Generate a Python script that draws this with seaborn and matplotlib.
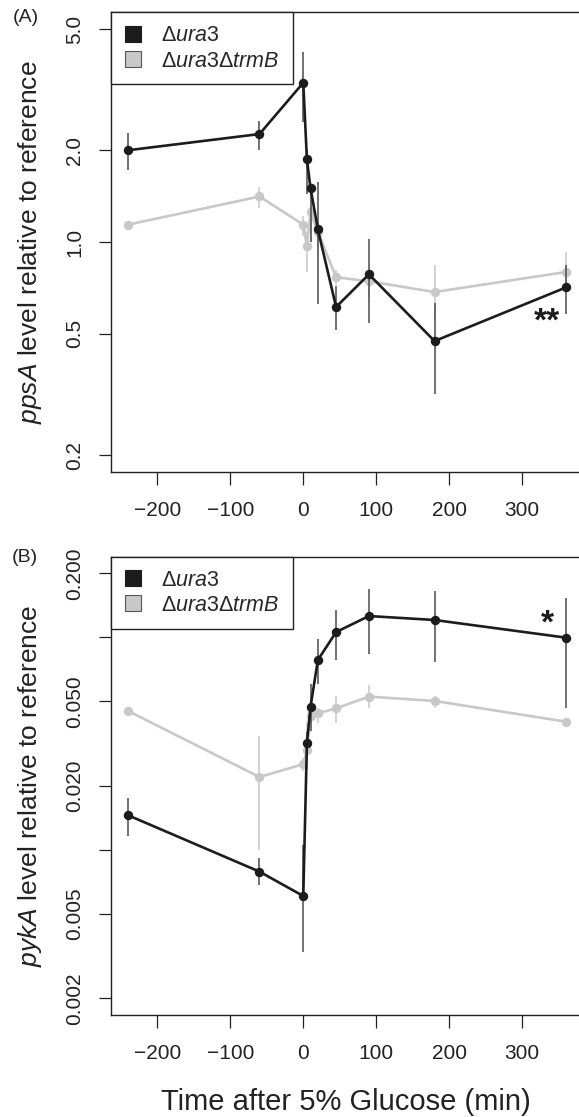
import matplotlib
matplotlib.use("Agg")
import numpy as np
import pandas as pd
import matplotlib.pyplot as plt
import seaborn as sns
from matplotlib.lines import Line2D
from matplotlib.ticker import NullLocator

# time after glucose addition (min)
time = [-240, -60, 0, 5, 10, 20, 45, 90, 180, 360]

# (A) ppsA
ppsA_ura3 = [2.0, 2.26, 3.33, 1.865, 1.50, 1.10, 0.612, 0.783, 0.473, 0.709]
ppsA_ura3_lo = [1.72, 2.01, 2.48, 1.44, 1.0, 0.628, 0.513, 0.542, 0.316, 0.582]
ppsA_ura3_hi = [2.28, 2.50, 4.19, 2.01, 1.55, 1.57, 0.715, 1.026, 0.631, 0.839]
ppsA_trmB = [1.14, 1.41, 1.14, 0.968, 1.25, 1.08, 0.766, 0.743, 0.685, 0.797]
ppsA_trmB_lo = [1.14, 1.29, 1.05, 0.80, 1.0, 0.95, 0.72, 0.66, 0.56, 0.69]
ppsA_trmB_hi = [1.14, 1.52, 1.22, 1.08, 1.37, 1.20, 0.81, 0.80, 0.839, 0.927]

# (B) pykA
pykA_ura3 = [0.01453, 0.00789, 0.00606, 0.0317, 0.0472, 0.0782, 0.1059, 0.126, 0.1207, 0.0997]
pykA_ura3_lo = [0.01161, 0.0068, 0.0033, 0.0277, 0.0362, 0.0601, 0.078, 0.0838, 0.0765, 0.0467]
pykA_ura3_hi = [0.01747, 0.0091, 0.0105, 0.0357, 0.0601, 0.0978, 0.134, 0.168, 0.166, 0.154]
pykA_trmB = [0.045, 0.0220, 0.0253, 0.0295, 0.0426, 0.0439, 0.0463, 0.0526, 0.0502, 0.0401]
pykA_trmB_lo = [0.045, 0.0100, 0.0235, 0.0240, 0.040, 0.0394, 0.0397, 0.0467, 0.0467, 0.0401]
pykA_trmB_hi = [0.045, 0.0343, 0.027, 0.0398, 0.046, 0.0467, 0.053, 0.0594, 0.053, 0.0401]

legend_labels = [r"$\Delta\mathit{ura3}$", r"$\Delta\mathit{ura3}\Delta\mathit{trmB}$"]
x_ticks = [-200, -100, 0, 100, 200, 300]

sns.set_style("ticks")
plt.rcParams["font.family"] = ["Liberation Sans", "DejaVu Sans"]
plt.rcParams["mathtext.fontset"] = "custom"
plt.rcParams["mathtext.rm"] = "Liberation Sans"
plt.rcParams["mathtext.it"] = "Liberation Sans:italic"
plt.rcParams["mathtext.bf"] = "Liberation Sans:bold"

BLACK = "#1c1c1c"
GRAY = "#c8c8c8"
colors = {"ura3": BLACK, "ura3trmB": GRAY}
err_colors = {"ura3": "#4a4a4a", "ura3trmB": GRAY}

W, H = 579, 1117
fig = plt.figure(figsize=(W / 100, H / 100), dpi=100)
left, right = 110.7, 581
axA = fig.add_axes([left / W, 1 - 471.7 / H, (right - left) / W, (471.7 - 12.3) / H])
axB = fig.add_axes([left / W, 1 - 1015.3 / H, (right - left) / W, (1015.3 - 556.7) / H])


def draw_panel(ax, vals, ylim, yticks, ylabels):
    # gray series first, black on top
    for i, strain in enumerate(["ura3trmB", "ura3"]):
        mid, lo, hi = vals[strain]
        df = pd.DataFrame({"time": time, "level": mid})
        ax.vlines(time, lo, hi, color=err_colors[strain], linewidth=1.1, zorder=2 + 2 * i)
        sns.lineplot(data=df, x="time", y="level", ax=ax, color=colors[strain],
                     marker="o", markersize=6.8, markeredgewidth=0, linewidth=1.9,
                     errorbar=None, zorder=3 + 2 * i)
    ax.set_yscale("log")
    ax.set_ylim(*ylim)
    ax.set_xlim(-264, (right - 303.3) / 0.7293)
    ax.set_yticks(yticks)
    ax.set_yticklabels(ylabels)
    ax.yaxis.set_minor_locator(NullLocator())
    ax.set_xticks(x_ticks)
    ax.set_xticklabels([str(v).replace("-", "\u2212") for v in x_ticks])
    ax.set_xlabel("")
    ax.set_ylabel("")
    ax.tick_params(axis="both", length=9, width=0.9, color="#222222", labelsize=15,
                   labelcolor="#222222")
    ax.tick_params(axis="y", pad=10)
    ax.tick_params(axis="x", pad=12)
    for lab in ax.get_yticklabels():
        lab.set_rotation(90)
        lab.set_va("center")
    for sp in ax.spines.values():
        sp.set_linewidth(1.0)
        sp.set_color("#222222")

    handles = [Line2D([], [], marker="s", linestyle="none", markersize=11,
                      markerfacecolor=BLACK, markeredgecolor=BLACK, markeredgewidth=0.8),
               Line2D([], [], marker="s", linestyle="none", markersize=11,
                      markerfacecolor=GRAY, markeredgecolor="#555555", markeredgewidth=0.8)]
    leg = ax.legend(handles, legend_labels, loc="upper left", bbox_to_anchor=(0, 1),
                    borderaxespad=0, fancybox=False, framealpha=1, edgecolor="#222222",
                    fontsize=15.5, handlelength=0.9, handletextpad=0.85, borderpad=0.6,
                    labelspacing=0.2)
    leg.get_frame().set_linewidth(1.0)
    leg.set_zorder(10)


draw_panel(axA,
           {"ura3": (ppsA_ura3, ppsA_ura3_lo, ppsA_ura3_hi),
            "ura3trmB": (ppsA_trmB, ppsA_trmB_lo, ppsA_trmB_hi)},
           (0.1763, 5.67), [0.2, 0.5, 1.0, 2.0, 5.0], ["0.2", "0.5", "1.0", "2.0", "5.0"])
draw_panel(axB,
           {"ura3": (pykA_ura3, pykA_ura3_lo, pykA_ura3_hi),
            "ura3trmB": (pykA_trmB, pykA_trmB_lo, pykA_trmB_hi)},
           (0.001663, 0.2397), [0.002, 0.005, 0.01, 0.02, 0.05, 0.1, 0.2],
           ["0.002", "0.005", "", "0.020", "0.050", "", "0.200"])

# significance marks
axA.text(334, 0.545, "**", fontsize=24, fontweight="bold", ha="center", va="center", color=BLACK)
axB.text(335, 0.115, "*", fontsize=24, fontweight="bold", ha="center", va="center", color=BLACK)

axB.set_xlabel("Time after 5% Glucose (min)", fontsize=21, color="#222222", labelpad=18)

fig.text(30 / W, 1 - 242 / H, r"$\mathit{ppsA}$ level relative to reference", rotation=90,
         ha="center", va="center", fontsize=19, color="#222222")
fig.text(30 / W, 1 - 786 / H, r"$\mathit{pykA}$ level relative to reference", rotation=90,
         ha="center", va="center", fontsize=19, color="#222222")
fig.text(26 / W, 1 - 18 / H, "(A)", ha="center", va="center", fontsize=14, color="#222222")
fig.text(25 / W, 1 - 558 / H, "(B)", ha="center", va="center", fontsize=14, color="#222222")

fig.savefig("out.png", dpi=100)
